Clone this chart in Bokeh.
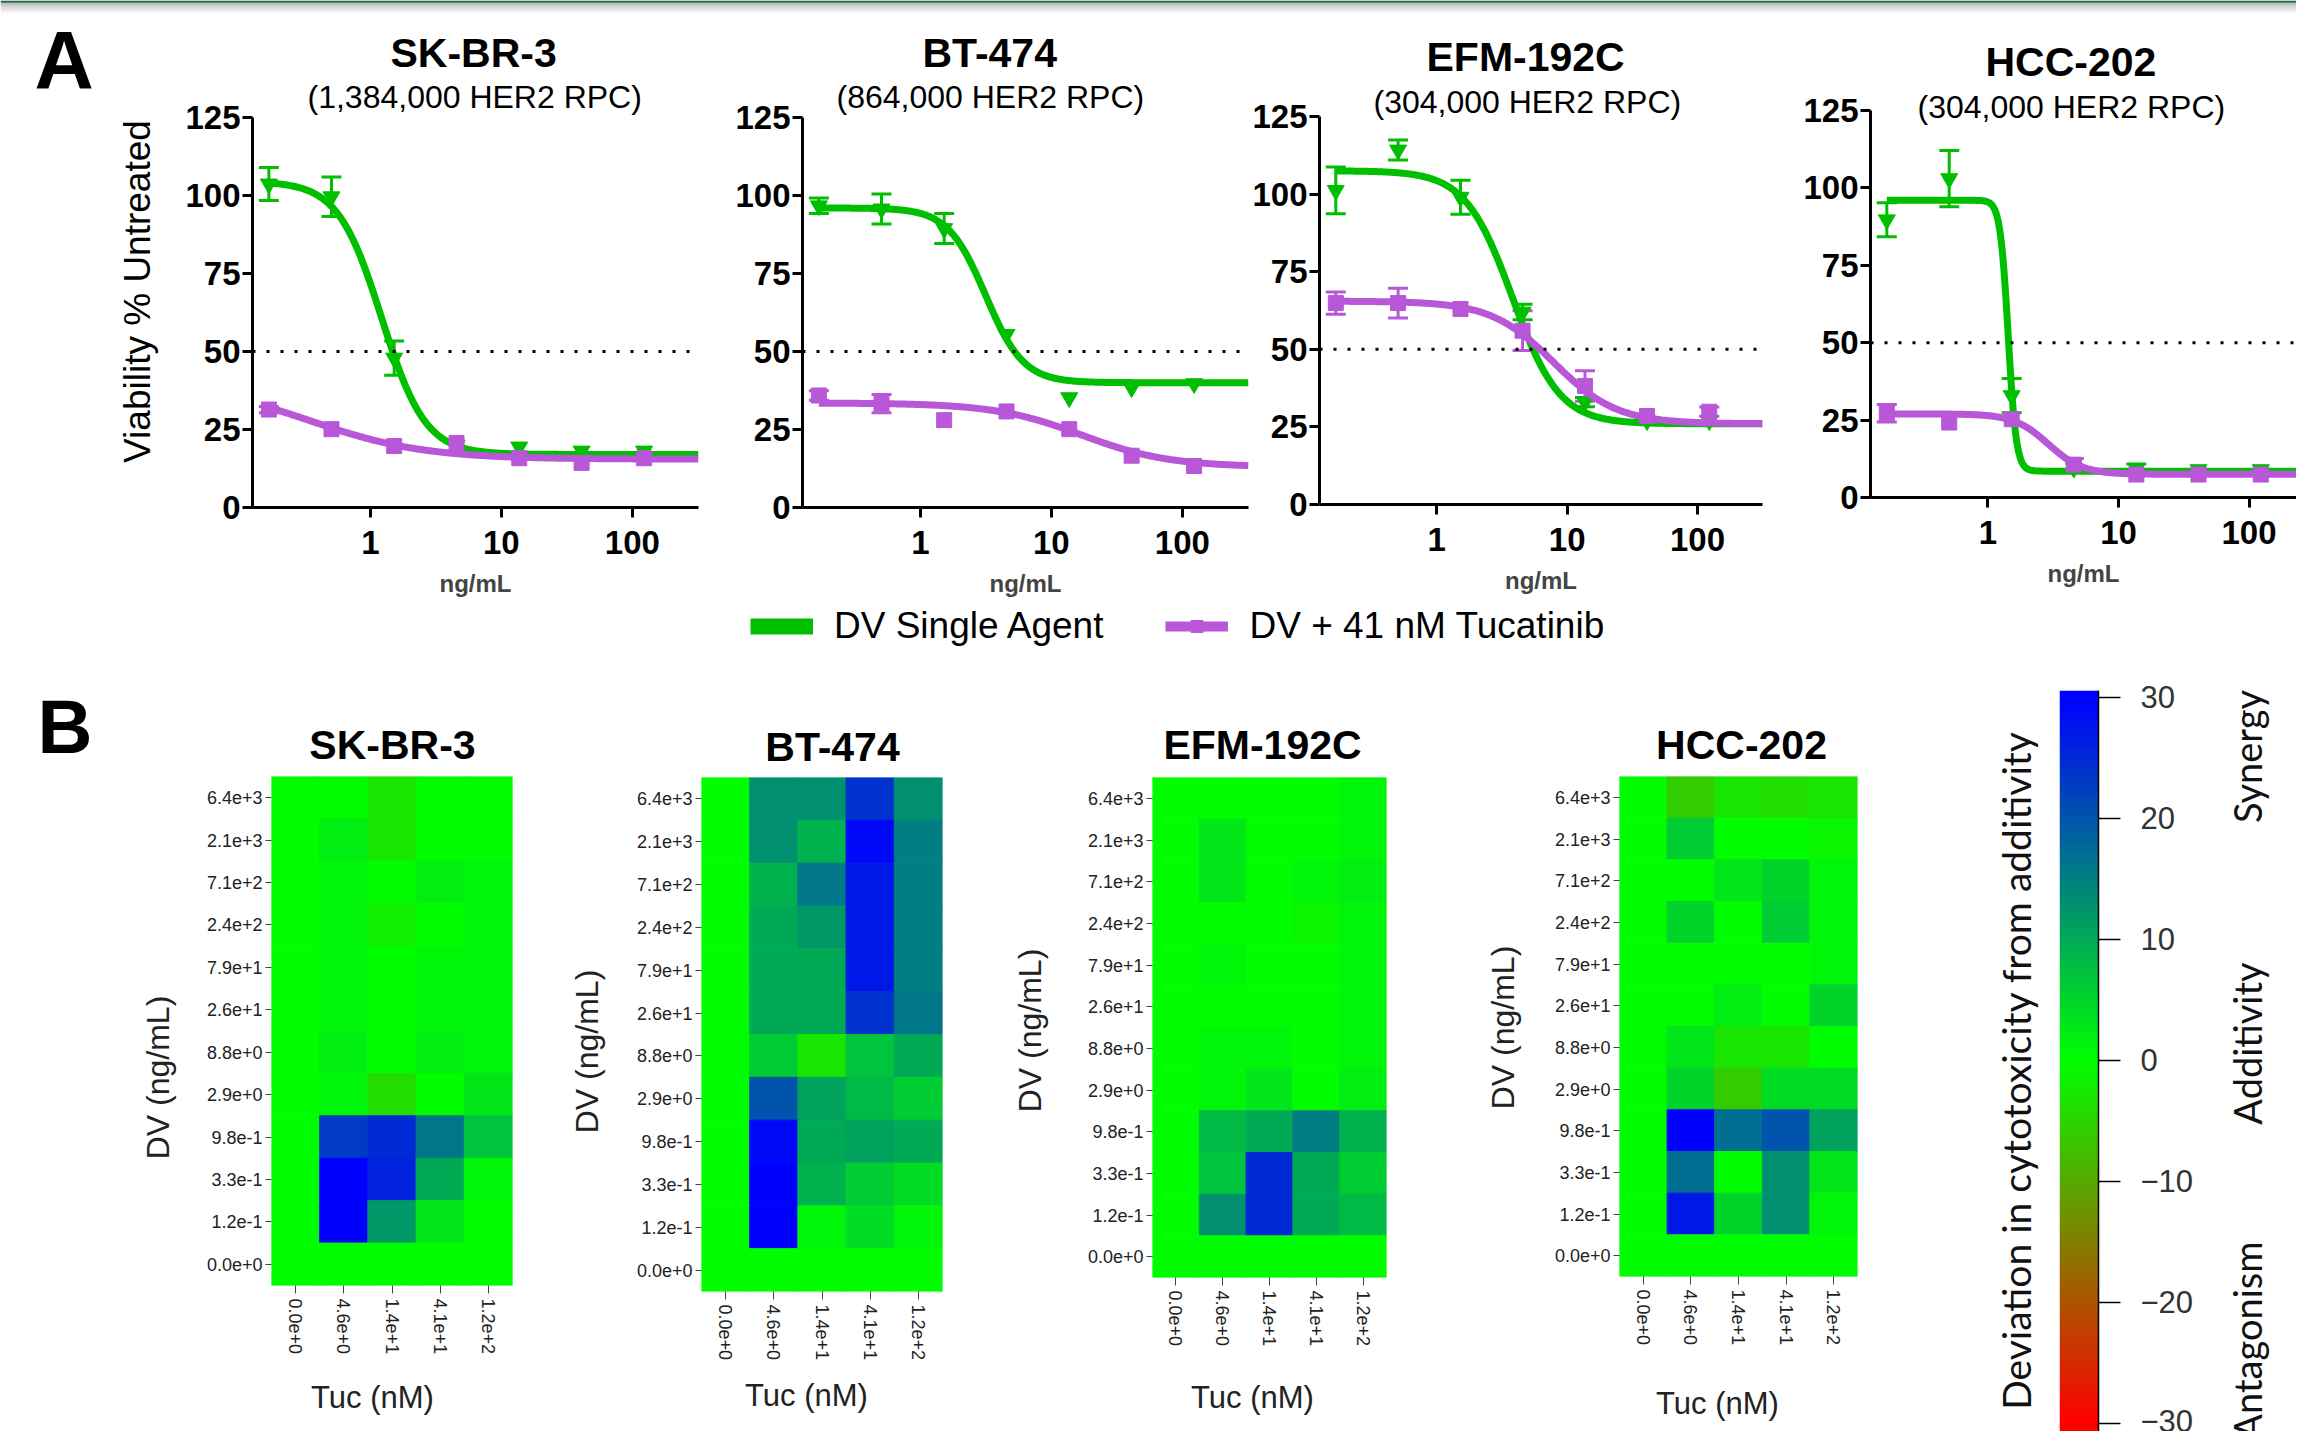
import numpy as np
from bokeh.plotting import figure
from bokeh.layouts import row, column
from bokeh.models import (ColumnDataSource, FactorRange, FixedTicker, Label, Legend, LegendItem,
                          LinearColorMapper, NumeralTickFormatter, Span, TeeHead, Whisker, Title)
from bokeh.transform import transform
from bokeh.embed import file_html
from bokeh.resources import INLINE

# ======================= DATA =======================
cell_lines = ["SK-BR-3", "BT-474", "EFM-192C", "HCC-202"]
her2_rpc_labels = ["(1,384,000 HER2 RPC)", "(864,000 HER2 RPC)",
                   "(304,000 HER2 RPC)", "(304,000 HER2 RPC)"]
legend_labels = ["DV Single Agent", "DV + 41 nM Tucatinib"]

# Panel A: viability (% untreated) vs DV concentration (ng/mL)
conc_ng_ml = [0.168, 0.505, 1.52, 4.55, 13.7, 41.0, 123.0]

dv_skbr3 = [103.7, 99.6, 47.9, 20.0, 19.4, 18.1, 18.1]
dv_skbr3_sem = [5.3, 6.3, 5.5, 0, 0, 0, 0]
combo_skbr3 = [31.4, 25.1, 19.7, 20.7, 15.8, 14.3, 15.8]
combo_skbr3_sem = [1.0, 0, 0, 0, 0, 0, 0]

dv_bt474 = [96.7, 95.7, 89.4, 55.5, 35.2, 38.4, 39.7]
dv_bt474_sem = [2.5, 4.8, 4.8, 0, 0, 0, 0]
combo_bt474 = [35.9, 33.3, 28.0, 30.8, 25.1, 16.6, 13.3]
combo_bt474_sem = [1.5, 2.9, 0, 0, 0, 0, 0]

dv_efm192c = [101.2, 114.2, 99.0, 62.0, 33.0, 27.0, 27.0]
dv_efm192c_sem = [7.5, 3.2, 5.5, 2.5, 1.5, 0, 0]
combo_efm192c = [64.9, 64.9, 63.0, 56.0, 38.2, 28.5, 29.9]
combo_efm192c_sem = [3.6, 4.8, 0, 6.4, 4.9, 0, 1.5]

dv_hcc202 = [89.7, 103.0, 32.9, 9.5, 9.3, 9.0, 9.0]
dv_hcc202_sem = [5.5, 9.1, 5.5, 0, 1.5, 0, 0]
combo_hcc202 = [27.2, 24.2, 25.3, 10.6, 7.4, 7.4, 7.4]
combo_hcc202_sem = [2.8, 0, 0, 2.0, 0, 0, 0]

# 4-parameter logistic fits (order = cell_lines)
dv_fit_top = [104.5, 96.0, 107.5, 96.0]
dv_fit_bottom = [17.0, 40.0, 26.0, 8.5]
dv_fit_ec50 = [1.22, 3.15, 3.8, 1.43]
dv_fit_hill = [2.6, 3.0, 2.4, 14.0]
combo_fit_top = [40.0, 33.5, 65.5, 27.0]
combo_fit_bottom = [15.5, 13.0, 26.0, 7.5]
combo_fit_ec50 = [0.35, 17.0, 7.9, 2.9]
combo_fit_hill = [1.0, 1.3, 1.8, 3.3]

# Panel B: deviation in cytotoxicity from additivity
tuc_labels = ["0.0e+0", "4.6e+0", "1.4e+1", "4.1e+1", "1.2e+2"]
dv_labels = ["0.0e+0", "1.2e-1", "3.3e-1", "9.8e-1", "2.9e+0", "8.8e+0",
             "2.6e+1", "7.9e+1", "2.4e+2", "7.1e+2", "2.1e+3", "6.4e+3"]
# rows listed from the top (DV 6.4e+3) down to DV 0.0e+0; columns follow tuc_labels
dev_skbr3 = [[0, 0, -3, 0, 0],
             [0, 2, -3, 0, 0],
             [0, 1, 0, 2, 1],
             [0, 1, -2, 0, 1],
             [0, 1, 0, 1, 1],
             [0, 1, 0, 1, 1],
             [0, 2, 0, 2, 1],
             [0, 1, -4, 0, 3],
             [0, 23, 25, 16, 7],
             [0, 30, 26, 10, 1],
             [0, 30, 12, 3, 0],
             [0, 0, 0, 0, 0]]
dev_bt474 = [[0, 13, 13, 24, 13],
             [0, 13, 9, 29, 15],
             [0, 9, 16, 27, 15],
             [0, 10, 12, 27, 15],
             [0, 10, 10, 27, 15],
             [0, 10, 10, 24, 16],
             [0, 6, -3, 7, 10],
             [0, 20, 11, 8, 6],
             [0, 29, 10, 11, 10],
             [0, 30, 9, 6, 4],
             [0, 30, 1, 4, 1],
             [0, 0, 0, 0, 0]]
dev_efm192c = [[0, 0, 0, 0, 1],
               [0, 3, 0, 0, 1],
               [0, 3, 0, 1, 2],
               [0, 0, 0, -1, 1],
               [0, 1, 0, 0, 1],
               [0, 0, 0, 0, 1],
               [0, 1, 1, 0, 1],
               [0, 1, 3, 0, 2],
               [0, 8, 10, 15, 9],
               [0, 7, 25, 10, 6],
               [0, 13, 25, 10, 8],
               [0, 0, 0, 0, 0]]
dev_hcc202 = [[0, -6, -3, -4, -3],
              [0, 6, 0, 0, -1],
              [0, 0, 3, 5, 1],
              [0, 5, 0, 6, 1],
              [0, 0, 0, 0, 1],
              [0, 0, 2, 0, 5],
              [0, 3, -3, -3, 0],
              [0, 5, -6, 4, 4],
              [0, 30, 17, 20, 11],
              [0, 17, 0, 13, 3],
              [0, 27, 5, 13, 1],
              [0, 0, 0, 0, 0]]
colorbar_ticks = [-30, -20, -10, 0, 10, 20, 30]
colorbar_title = "Deviation in cytotoxicity from additivity"
colorbar_zones = ["Synergy", "Additivity", "Antagonism"]

# ======================= STYLE / LAYOUT =======================
GREEN = "#00bf00"
PURPLE = "#b857d7"
FONT = "Liberation Sans"
CB_FONT = "Lato"
SVG = "svg"


def make_palette():
    pal = []
    n = 256
    for i in range(n):
        t = i / (n - 1)
        if t <= 0.5:
            u = t / 0.5
            r, g, b = 255 * (1 - u), 255 * u, 0
        else:
            u = (t - 0.5) / 0.5
            r, g, b = 0, 255 * (1 - u), 255 * u
        pal.append("#%02x%02x%02x" % (int(round(r)), int(round(g)), int(round(b))))
    return pal


mapper = LinearColorMapper(palette=make_palette(), low=-30, high=30)


def text_fig(w, h):
    p = figure(width=w, height=h, x_range=(0, 1), y_range=(0, 1), toolbar_location=None,
               output_backend=SVG, min_border=0, x_axis_location=None, y_axis_location=None,
               frame_align=False, title=None)
    p.outline_line_color = None
    p.grid.visible = False
    return p


def canvas_label(p, x, y, text, size, bold=False, angle=0.0, align="center",
                 font=FONT, color="black"):
    # y is the vertical middle of the text box, in the figure's own pixels from the top
    p.add_layout(Label(x=x, y=y, x_units="canvas", y_units="canvas", text=text,
                       text_font=font, text_font_size=size,
                       text_font_style="bold" if bold else "normal",
                       text_color=color, angle=angle, text_align=align,
                       text_baseline="middle"))


# ---------------- decorative slide band at the very top ----------------
STRIP_H = 14
strip = text_fig(2296, STRIP_H)
band = np.zeros((STRIP_H, 1), dtype=np.uint32)
band_view = band.view(dtype=np.uint8).reshape((STRIP_H, 1, 4))
for r in range(STRIP_H):
    from_top = STRIP_H - 1 - r
    if from_top < 2:
        rgb = (24, 104, 58)
    else:
        g = int(round(178 + (255 - 178) * ((from_top - 2) / (STRIP_H - 3)) ** 0.7))
        rgb = (g, g, g)
    band_view[r, 0, 0], band_view[r, 0, 1], band_view[r, 0, 2] = rgb
    band_view[r, 0, 3] = 255
strip.image_rgba(image=[band], x=0, y=0, dw=1, dh=1)

# ---------------- Panel A ----------------
A_HEIGHT = 600 - STRIP_H
A_specs = [
    dict(w=540, bl=72, br=22, bt=103, bb=93, xend=320, sub_off=55, sub_so=6, t_off=138, t_so=-4),
    dict(w=529, bl=82, br=1, bt=103, bb=93, xend=320, sub_off=34, sub_so=6, t_off=120, t_so=-4),
    dict(w=551, bl=67, br=38, bt=102, bb=96, xend=315, sub_off=54, sub_so=-7, t_off=107, t_so=11),
    dict(w=496, bl=69, br=0, bt=96, bb=103, xend=231, sub_off=47, sub_so=-28, t_off=115, t_so=31),
]


def logistic_curve(x0, x1, top, bottom, ec50, hill):
    xs = np.logspace(np.log10(x0), np.log10(x1), 400)
    ys = bottom + (top - bottom) / (1.0 + (xs / ec50) ** hill)
    return xs, ys


def add_errorbars(p, conc, mean, sem, color):
    xs, up, lo = [], [], []
    for c, m, s in zip(conc, mean, sem):
        if s > 0:
            xs.append(c); up.append(m + s); lo.append(m - s)
    if not xs:
        return
    src = ColumnDataSource(dict(x=xs, upper=up, lower=lo))
    p.add_layout(Whisker(base="x", upper="upper", lower="lower", source=src,
                         line_color=color, line_width=3,
                         upper_head=TeeHead(size=20, line_color=color, line_width=3),
                         lower_head=TeeHead(size=20, line_color=color, line_width=3)))


def dose_fig(i, dv, dv_sem, combo, combo_sem):
    s = A_specs[i]
    p = figure(width=s["w"], height=A_HEIGHT, x_axis_type="log",
               x_range=(0.126, s["xend"]), y_range=(0, 125),
               toolbar_location=None, output_backend=SVG, frame_align=False, title=None,
               min_border_left=s["bl"], min_border_right=s["br"],
               min_border_top=s["bt"], min_border_bottom=s["bb"])
    p.outline_line_color = None
    p.grid.visible = False
    p.xaxis.ticker = FixedTicker(ticks=[1, 10, 100], minor_ticks=[])
    p.xaxis.formatter = NumeralTickFormatter(format="0")
    p.yaxis.ticker = FixedTicker(ticks=[0, 25, 50, 75, 100, 125], minor_ticks=[])
    for ax in (p.xaxis[0], p.yaxis[0]):
        ax.axis_line_width = 3
        ax.axis_line_color = "black"
        ax.major_tick_line_width = 3
        ax.major_tick_line_color = "black"
        ax.major_tick_out = 10
        ax.major_tick_in = 0
        ax.minor_tick_line_color = None
        ax.major_label_text_font = FONT
        ax.major_label_text_font_style = "bold"
        ax.major_label_text_font_size = "33px"
        ax.major_label_text_color = "black"
    p.xaxis.major_label_standoff = 13
    p.yaxis.major_label_standoff = 2
    p.xaxis.axis_label = "ng/mL"
    p.xaxis.axis_label_text_font = FONT
    p.xaxis.axis_label_text_font_style = "bold"
    p.xaxis.axis_label_text_font_size = "24px"
    p.xaxis.axis_label_standoff = 13

    p.add_layout(Span(location=50, dimension="width", line_color="black",
                      line_width=3, line_dash="3 11"))

    x0 = conc_ng_ml[0]
    gx, gy = logistic_curve(x0, s["xend"], dv_fit_top[i], dv_fit_bottom[i], dv_fit_ec50[i], dv_fit_hill[i])
    px, py = logistic_curve(x0, s["xend"], combo_fit_top[i], combo_fit_bottom[i], combo_fit_ec50[i], combo_fit_hill[i])
    p.line(gx, gy, line_color=GREEN, line_width=7, line_join="round")
    p.scatter(conc_ng_ml, dv, marker="inverted_triangle", size=17, color=GREEN)
    add_errorbars(p, conc_ng_ml, dv, dv_sem, GREEN)
    p.line(px, py, line_color=PURPLE, line_width=7, line_join="round")
    p.scatter(conc_ng_ml, combo, marker="square", size=15, color=PURPLE)
    add_errorbars(p, conc_ng_ml, combo, combo_sem, PURPLE)

    p.add_layout(Title(text=her2_rpc_labels[i], align="left", offset=s["sub_off"],
                       vertical_align="bottom", standoff=s["sub_so"], text_font=FONT,
                       text_font_size="32px", text_font_style="normal", text_color="black"), "above")
    p.add_layout(Title(text=cell_lines[i], align="left", offset=s["t_off"],
                       vertical_align="bottom", standoff=s["t_so"], text_font=FONT,
                       text_font_size="41px", text_font_style="bold", text_color="black"), "above")
    return p


A_left = text_fig(180, A_HEIGHT)
canvas_label(A_left, 34, 58.6 - STRIP_H, "A", "82px", bold=True, align="left")
canvas_label(A_left, 137, 291 - STRIP_H, "Viability % Untreated", "37px", angle=np.pi / 2)

panelA = [
    dose_fig(0, dv_skbr3, dv_skbr3_sem, combo_skbr3, combo_skbr3_sem),
    dose_fig(1, dv_bt474, dv_bt474_sem, combo_bt474, combo_bt474_sem),
    dose_fig(2, dv_efm192c, dv_efm192c_sem, combo_efm192c, combo_efm192c_sem),
    dose_fig(3, dv_hcc202, dv_hcc202_sem, combo_hcc202, combo_hcc202_sem),
]

# ---------------- legend row ----------------
leg = figure(width=2296, height=55, toolbar_location=None, output_backend=SVG,
             x_range=(0, 1), y_range=(0, 1), min_border=0, frame_align=False, title=None,
             x_axis_location=None, y_axis_location=None)
leg.outline_line_color = None
leg.grid.visible = False
lr1 = leg.line(x=[-5, -4], y=[-5, -5], line_color=GREEN, line_width=16)
lm1 = leg.scatter(x=[-5], y=[-5], marker="inverted_triangle", size=26, color=GREEN)
lr2 = leg.line(x=[-5, -4], y=[-5, -5], line_color=PURPLE, line_width=10)
lm2 = leg.scatter(x=[-5], y=[-5], marker="square", size=18, color=PURPLE)
legend = Legend(items=[LegendItem(label=legend_labels[0], renderers=[lr1, lm1]),
                       LegendItem(label=legend_labels[1], renderers=[lr2, lm2])],
                orientation="horizontal", location=(750, 8),
                glyph_width=63, glyph_height=30, label_standoff=21, spacing=62,
                padding=0, margin=0, border_line_color=None, background_fill_alpha=0,
                label_text_font=FONT, label_text_font_size="37px",
                label_text_color="black")
leg.add_layout(legend)

# ---------------- Panel B heatmaps ----------------
HEAT_H = 600
H_specs = [
    dict(w=365, bl=76, br=48, bt=6, bb=85),
    dict(w=390, bl=81, br=68, bt=7, bb=79),
    dict(w=390, bl=82, br=74, bt=7, bb=93),
    dict(w=360, bl=79, br=43, bt=6, bb=94),
]


def heat_fig(i, grid):
    s = H_specs[i]
    p = figure(width=s["w"], height=HEAT_H, x_range=FactorRange(*tuc_labels),
               y_range=FactorRange(*dv_labels), toolbar_location=None, output_backend=SVG,
               frame_align=False, title=None,
               min_border_left=s["bl"], min_border_right=s["br"],
               min_border_top=s["bt"], min_border_bottom=s["bb"])
    p.outline_line_color = None
    p.grid.visible = False
    tx, dy, vals = [], [], []
    nrow = len(grid)
    for r, rowvals in enumerate(grid):
        for c, v in enumerate(rowvals):
            tx.append(tuc_labels[c])
            dy.append(dv_labels[nrow - 1 - r])
            vals.append(v)
    src = ColumnDataSource(dict(tuc=tx, dv=dy, dev=vals))
    p.rect(x="tuc", y="dv", width=1, height=1, source=src,
           fill_color=transform("dev", mapper), line_color=transform("dev", mapper), line_width=1)
    for ax in (p.xaxis[0], p.yaxis[0]):
        ax.axis_line_color = None
        ax.major_tick_line_color = "#444444"
        ax.major_tick_line_width = 1
        ax.major_tick_in = 0
        ax.minor_tick_line_color = None
        ax.major_label_text_font = FONT
        ax.major_label_text_font_size = "18px"
        ax.major_label_text_color = "#222222"
    p.yaxis.major_tick_out = 6
    p.yaxis.major_label_standoff = 3
    p.xaxis.major_tick_out = 8
    p.xaxis.major_label_standoff = 5
    p.xaxis.major_label_orientation = "vertical"
    return p


heatmaps = [heat_fig(0, dev_skbr3), heat_fig(1, dev_bt474),
            heat_fig(2, dev_efm192c), heat_fig(3, dev_hcc202)]

# text strips around the heatmaps (positions in each strip's own pixels, middle of text)
B_top = text_fig(1900, 115)
canvas_label(B_top, 37, 70.7, "B", "76px", bold=True, align="left")
for name, cx, cy in zip(cell_lines, [392, 832, 1262, 1741], [89.8, 91.4, 89.8, 89.8]):
    canvas_label(B_top, cx, cy, name, "41px", bold=True)

B_bottom = text_fig(1900, 61)
for cx, cy in zip([372, 806, 1252, 1717], [27, 25, 27, 33]):
    canvas_label(B_bottom, cx, cy, "Tuc (nM)", "31px", color="#222222")

dv_strip_w = [195, 60, 60, 80]
dv_strip_xy = [(157, 307), (26, 281), (19, 260), (42, 257)]
dv_strips = []
for w, (cx, cy) in zip(dv_strip_w, dv_strip_xy):
    t = text_fig(w, HEAT_H)
    canvas_label(t, cx, cy, "DV (ng/mL)", "32px", angle=np.pi / 2, color="#222222")
    dv_strips.append(t)

heat_row = row(dv_strips[0], heatmaps[0], dv_strips[1], heatmaps[1],
               dv_strips[2], heatmaps[2], dv_strips[3], heatmaps[3])
B_left = column(B_top, heat_row, B_bottom)

# ---------------- colour bar ----------------
B_HEIGHT = 776
cb_lo, cb_hi = -30.69, 30.55
cb = figure(width=182, height=B_HEIGHT, x_range=(0, 1), y_range=(cb_lo, cb_hi),
            toolbar_location=None, output_backend=SVG, y_axis_location="right",
            x_axis_location=None, frame_align=False, title=None,
            min_border_left=19, min_border_right=124, min_border_top=35, min_border_bottom=0)
cb.outline_line_color = None
cb.grid.visible = False
grad = np.linspace(cb_lo, cb_hi, 600).reshape(-1, 1)
cb.image(image=[grad], x=0, y=cb_lo, dw=1, dh=cb_hi - cb_lo, color_mapper=mapper)
ya = cb.yaxis[0]
ya.ticker = FixedTicker(ticks=colorbar_ticks, minor_ticks=[])
ya.major_label_overrides = {t: (("\u2212" + str(-t)) if t < 0 else str(t)) for t in colorbar_ticks}
ya.axis_line_color = "black"
ya.axis_line_width = 1.5
ya.major_tick_line_color = "black"
ya.major_tick_line_width = 1.5
ya.major_tick_out = 22
ya.major_tick_in = 0
ya.minor_tick_line_color = None
ya.major_label_standoff = 20
ya.major_label_text_font = FONT
ya.major_label_text_font_size = "31px"
ya.major_label_text_color = "#333333"

cb_left = text_fig(140, B_HEIGHT)
canvas_label(cb_left, 115, 415, colorbar_title, "39px", angle=np.pi / 2, font=CB_FONT, color="#111111")
cb_right = text_fig(74, B_HEIGHT)
canvas_label(cb_right, 24, 101, colorbar_zones[0], "38px", angle=np.pi / 2, font=CB_FONT, color="#111111")
canvas_label(cb_right, 24, 388, colorbar_zones[1], "38px", angle=np.pi / 2, font=CB_FONT, color="#111111")
canvas_label(cb_right, 24, 586, colorbar_zones[2], "38px", angle=np.pi / 2, align="right",
             font=CB_FONT, color="#111111")

layout = column(strip, row(A_left, *panelA), leg, row(B_left, row(cb_left, cb, cb_right)))

with open("out.html", "w") as f:
    f.write(file_html(layout, INLINE, title="DV + tucatinib"))
